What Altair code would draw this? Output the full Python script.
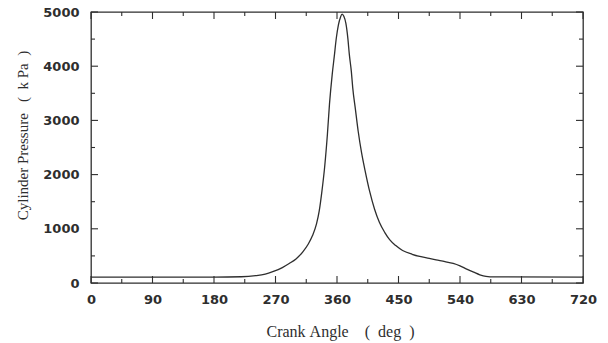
import altair as alt
import pandas as pd

# Crank angle (deg) and cylinder pressure (kPa)
angle = [0, 90, 180, 220, 241, 255, 266, 280, 290, 300, 310, 318, 324, 330, 334,
         338, 342, 346, 349, 353, 356, 359, 362, 365, 367.5, 370, 373, 376, 378, 381,
         383, 387, 391, 396, 401, 408, 415, 422, 430, 437, 446, 456, 470, 481, 495,
         505, 518, 530, 540, 549, 560, 569, 578, 590, 720]
pressure = [110, 110, 110, 115, 135, 165, 210, 285, 360, 445, 575, 720, 870, 1090, 1330,
            1700, 2150, 2750, 3300, 3850, 4180, 4520, 4760, 4900, 4960, 4920, 4790, 4500, 4222, 3900,
            3605, 3200, 2800, 2400, 2080, 1680, 1360, 1120, 930, 800, 690, 600, 530, 490, 455,
            428, 395, 360, 315, 262, 200, 152, 122, 112, 110]

x_major = [0, 90, 180, 270, 360, 450, 540, 630, 720]
x_minor = [45, 135, 225, 315, 405, 495, 585, 675]
y_major = [0, 1000, 2000, 3000, 4000, 5000]
y_minor = [500, 1500, 2500, 3500, 4500]

NB = "\u00a0"
x_title = "Crank" + NB + "Angle" + NB * 4 + "(" + NB * 2 + "deg" + NB * 2 + ")"
y_title = "Cylinder" + NB + "Pressure" + NB * 3 + "(" + NB * 2 + "k" + NB + "Pa" + NB * 2 + ")"

df = pd.DataFrame({"angle": angle, "pressure": pressure})

W, H = 492, 271
INK = "#2e2e2e"
xs = alt.Scale(domain=[0, 720], nice=False, zero=False)
ys = alt.Scale(domain=[0, 5000], nice=False)

x_axis = alt.Axis(values=x_major, format="d", tickSize=0, domain=False, grid=False,
                  labelFont="DejaVu Sans", labelFontWeight="bold", labelFontSize=13,
                  labelColor=INK, labelPadding=10, labelFlush=False,
                  title=x_title, titleFont="Liberation Serif",
                  titleFontSize=16, titleFontWeight="normal", titleColor=INK,
                  titleX=249, titleY=48, titleBaseline="middle", titleAlign="center")
y_axis = alt.Axis(values=y_major, format="d", tickSize=0, domain=False, grid=False,
                  labelFont="DejaVu Sans", labelFontWeight="bold", labelFontSize=13,
                  labelColor=INK, labelPadding=12, labelFlush=False,
                  title=y_title, titleFont="Liberation Serif",
                  titleFontSize=15, titleFontWeight="normal", titleColor=INK,
                  titleX=-69, titleY=123, titleAngle=-90,
                  titleBaseline="middle", titleAlign="center")

line = alt.Chart(df).mark_line(color=INK, strokeWidth=1.3, interpolate="monotone").encode(
    x=alt.X("angle:Q", scale=xs, axis=x_axis),
    y=alt.Y("pressure:Q", scale=ys, axis=y_axis),
)


def xticks(vals, length):
    base = alt.Chart(pd.DataFrame({"v": vals})).mark_rule(color=INK, strokeWidth=1.1)
    xe = alt.X("v:Q", scale=xs, axis=x_axis)
    return [base.encode(x=xe, y=alt.value(H), y2=alt.value(H - length)),
            base.encode(x=xe, y=alt.value(0), y2=alt.value(length))]


def yticks(vals, length):
    base = alt.Chart(pd.DataFrame({"v": vals})).mark_rule(color=INK, strokeWidth=1.1)
    ye = alt.Y("v:Q", scale=ys, axis=y_axis)
    return [base.encode(y=ye, x=alt.value(0), x2=alt.value(length)),
            base.encode(y=ye, x=alt.value(W), x2=alt.value(W - length))]


layers = [line] + xticks(x_major, 7) + xticks(x_minor, 4) + yticks(y_major, 7) + yticks(y_minor, 4)

chart = alt.layer(*layers).properties(
    width=W, height=H,
    autosize=alt.AutoSizeParams(type="none"),
    padding={"left": 91, "top": 12, "right": 25, "bottom": 60},
    background="white",
).configure_view(stroke=INK, strokeWidth=1.3)

chart.save("out.html", embed_options={"renderer": "svg", "actions": False})
